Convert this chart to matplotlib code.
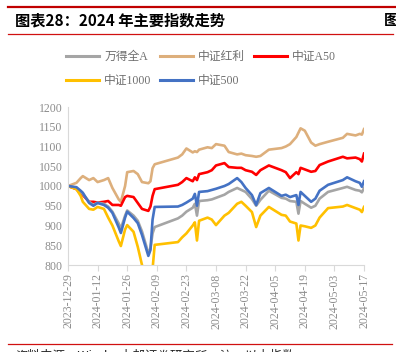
import matplotlib
matplotlib.use("Agg")
import matplotlib.pyplot as plt
import matplotlib.dates as mdates
from matplotlib.lines import Line2D
import pandas as pd

# trading days sampled from the chart
dates = [
    "2023-12-29", "2024-01-02", "2024-01-04", "2024-01-05", "2024-01-08",
    "2024-01-10", "2024-01-12", "2024-01-15", "2024-01-17", "2024-01-19",
    "2024-01-22", "2024-01-23", "2024-01-25", "2024-01-26", "2024-01-29",
    "2024-01-31", "2024-02-02", "2024-02-05", "2024-02-06", "2024-02-07",
    "2024-02-08", "2024-02-19", "2024-02-21", "2024-02-23", "2024-02-26",
    "2024-02-27", "2024-02-28", "2024-02-29", "2024-03-04", "2024-03-06",
    "2024-03-08", "2024-03-12", "2024-03-14", "2024-03-18", "2024-03-20",
    "2024-03-22", "2024-03-25", "2024-03-27", "2024-03-29", "2024-04-02",
    "2024-04-08", "2024-04-10", "2024-04-12", "2024-04-15", "2024-04-16",
    "2024-04-17", "2024-04-19", "2024-04-22", "2024-04-24", "2024-04-26",
    "2024-04-30", "2024-05-07", "2024-05-09", "2024-05-13", "2024-05-15",
    "2024-05-16", "2024-05-17",
]

wind_all_a = [
    1000, 995, 985, 980, 960, 952, 958, 955, 948, 935,
    905, 892, 925, 938, 925, 912, 885, 830, 842, 880,
    896, 918, 925, 935, 945, 955, 925, 962, 964, 966,
    970, 978, 985, 995, 990, 985, 967, 950, 965, 988,
    970, 968, 962, 960, 930, 962, 955, 945, 950, 968,
    985, 995, 998, 990, 988, 984, 995,
]
csi_dividend = [
    1000, 1008, 1020, 1025, 1015, 1020, 1010, 1015, 1020, 995,
    966, 960, 1000, 1035, 1038, 1030, 1010, 1007, 1012, 1045,
    1055, 1072, 1080, 1095, 1085, 1088, 1086, 1092, 1098, 1096,
    1106, 1102, 1086, 1080, 1082, 1078, 1076, 1074, 1076, 1092,
    1096, 1100, 1106, 1124, 1135, 1146, 1140, 1110, 1102, 1106,
    1112, 1122, 1132, 1128, 1132, 1130, 1144,
]
csi_a50 = [
    1000, 992, 980, 977, 960, 960, 958, 960, 962, 952,
    952, 950, 972, 975, 972, 957, 942, 937, 948, 975,
    992, 1003, 1010, 1020, 1012, 1022, 1015, 1030, 1035, 1040,
    1052, 1058, 1048, 1046, 1046, 1040, 1036, 1028, 1040, 1052,
    1040, 1035, 1020, 1035, 1030, 1046, 1042, 1036, 1038, 1053,
    1062, 1074, 1070, 1072, 1068, 1062, 1082,
]
csi_1000 = [
    1000, 992, 975, 960, 942, 940, 947, 942, 920, 900,
    860, 848, 890, 901, 884, 846, 800, 760, 775, 790,
    851, 858, 870, 880, 900, 908, 862, 912, 920, 915,
    901, 925, 932, 955, 960, 950, 934, 896, 925, 947,
    927, 925, 910, 905, 862, 900, 898, 894, 900, 920,
    944, 948, 952, 944, 940, 934, 947,
]
csi_500 = [
    1000, 997, 988, 983, 957, 950, 957, 952, 945, 932,
    895, 881, 920, 935, 919, 906, 876, 823, 838, 915,
    947, 948, 952, 958, 968, 980, 950, 985, 987, 990,
    993, 1000, 1005, 1020, 1010, 995, 977, 952, 982, 995,
    975, 978, 972, 977, 952, 985, 975, 960, 968, 988,
    1003, 1015, 1022, 1012, 1008, 998, 1012,
]

names = ["万得全A", "中证红利", "中证A50", "中证1000", "中证500"]
colors = ["#A5A5A5", "#DDAF7C", "#FF0000", "#FFC000", "#4472C4"]
tick_dates = pd.date_range("2023-12-29", "2024-05-17", freq="14D")

x = pd.to_datetime(dates)
cjk = ["Liberation Serif", "Noto Sans CJK SC", "DejaVu Sans"]

fig = plt.figure(figsize=(3.96, 3.52), dpi=100)
ax = fig.add_axes([68 / 396, 1 - 265 / 352, 296 / 396, 158 / 352])

series = [wind_all_a, csi_dividend, csi_a50, csi_1000, csi_500]
order = [1, 2, 0, 3, 4]
for i in order:
    ax.plot(x, series[i], color=colors[i], lw=1.9, solid_joinstyle="round")

ax.set_ylim(800, 1200)
ax.set_yticks(range(800, 1201, 50))
ax.set_xlim(tick_dates[0], tick_dates[-1])
ax.set_xticks(tick_dates)
ax.xaxis.set_major_formatter(mdates.DateFormatter("%Y-%m-%d"))
for lab in ax.get_xticklabels():
    lab.set_rotation(90)
for lab in ax.get_xticklabels() + ax.get_yticklabels():
    lab.set_fontfamily("Liberation Serif")
    lab.set_fontsize(8.5)
    lab.set_color("#8C8C8C")

for s in ["top", "right"]:
    ax.spines[s].set_visible(False)
for s in ["left", "bottom"]:
    ax.spines[s].set_color("#D9D9D9")
ax.tick_params(axis="y", length=0, pad=4)
ax.tick_params(axis="x", length=4, color="#D9D9D9", pad=2)

# legend: column-wise fill, so reorder to get rows gray/tan/red and yellow/blue
leg_idx = [0, 3, 1, 4, 2]
handles = [Line2D([0], [0], color=colors[i], lw=2.2) for i in leg_idx]
labels = [names[i] for i in leg_idx]
fig.legend(handles, labels, ncol=3, loc="center", bbox_to_anchor=(0.508, 1 - 69 / 352),
           frameon=False, prop={"family": cjk, "size": 8.5}, labelcolor="#6E6E6E",
           handlelength=2.75, handletextpad=0.45, columnspacing=0.75, labelspacing=1.05)

# header and footer decoration
fig.add_artist(Line2D([8 / 396, 1], [1 - 7 / 352] * 2, color="#C00000", lw=1.6))
fig.add_artist(Line2D([8 / 396, 393 / 396], [1 - 34 / 352] * 2, color="#D01010", lw=0.9))
fig.add_artist(Line2D([8 / 396, 392 / 396], [1 - 344 / 352] * 2, color="#D01010", lw=0.9))
fig.text(15 / 396, 1 - 20 / 352, "图表28：2024 年主要指数走势", fontsize=11, fontweight="bold",
         family=["Noto Sans CJK SC", "DejaVu Sans"], va="center", ha="left", color="#000000")
fig.text(384 / 396, 1 - 20 / 352, "图", fontsize=11, fontweight="bold",
         family=["Noto Sans CJK SC"], va="center", ha="left", color="#000000")
fig.text(15 / 396, 1 - 356 / 352, "资料来源：Wind，中邮证券研究所，注：以上指数",
         fontsize=9, family=["Noto Sans CJK SC", "DejaVu Sans"], va="center", ha="left",
         color="#222222")

fig.savefig("out.png", dpi=100)
